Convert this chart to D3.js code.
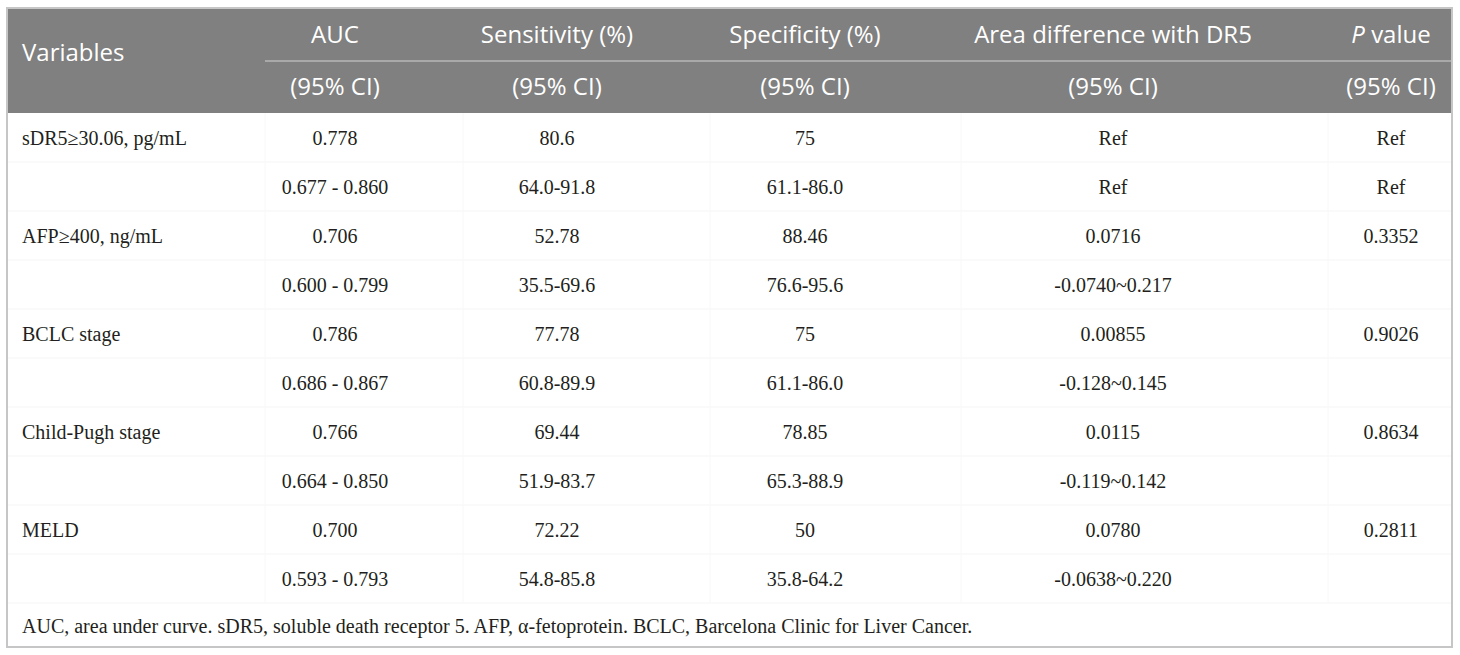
<!DOCTYPE html>
<html>
<head>
<meta charset="utf-8">
<script src="https://cdn.jsdelivr.net/npm/d3@7"></script>
<style>
  html, body { margin: 0; padding: 0; background: #fff; }
  svg { display: block; }
</style>
</head>
<body>
<svg id="chart" width="1460" height="655"></svg>
<script>
// ---- data ----
const headerTop = ["Variables", "AUC", "Sensitivity (%)", "Specificity (%)", "Area difference with DR5", "P value"];
const headerSub = ["", "(95% CI)", "(95% CI)", "(95% CI)", "(95% CI)", "(95% CI)"];
const variables = ["sDR5\u226530.06, pg/mL", "AFP\u2265400, ng/mL", "BCLC stage", "Child-Pugh stage", "MELD"];
const auc      = ["0.778", "0.706", "0.786", "0.766", "0.700"];
const aucCI    = ["0.677 - 0.860", "0.600 - 0.799", "0.686 - 0.867", "0.664 - 0.850", "0.593 - 0.793"];
const sens     = ["80.6", "52.78", "77.78", "69.44", "72.22"];
const sensCI   = ["64.0-91.8", "35.5-69.6", "60.8-89.9", "51.9-83.7", "54.8-85.8"];
const spec     = ["75", "88.46", "75", "78.85", "50"];
const specCI   = ["61.1-86.0", "76.6-95.6", "61.1-86.0", "65.3-88.9", "35.8-64.2"];
const areaDiff = ["Ref", "0.0716", "0.00855", "0.0115", "0.0780"];
const areaCI   = ["Ref", "-0.0740~0.217", "-0.128~0.145", "-0.119~0.142", "-0.0638~0.220"];
const pValue   = ["Ref", "0.3352", "0.9026", "0.8634", "0.2811"];
const pValueCI = ["Ref", "", "", "", ""];
const footnote = "AUC, area under curve. sDR5, soluble death receptor 5. AFP, \u03b1-fetoprotein. BCLC, Barcelona Clinic for Liver Cancer.";

// ---- build rows ----
const rows = [];
variables.forEach((v, i) => {
  rows.push([v, auc[i], sens[i], spec[i], areaDiff[i], pValue[i]]);
  rows.push(["", aucCI[i], sensCI[i], specCI[i], areaCI[i], pValueCI[i]]);
});

const svg = d3.select("#chart");
const L = 7, R = 1452, T = 8, B = 647;
const headBottom = 113, headMid = 61;
const bodyBottom = 603;

const colKeys = d3.range(headerTop.length);
const colCenter = d3.scaleOrdinal().domain(colKeys).range([22, 335, 557, 805, 1113, 1391]);
const colEdges = [265, 463, 710, 961, 1328];

const y = d3.scaleBand().domain(d3.range(rows.length)).range([headBottom, bodyBottom]);

// header background
svg.append("rect").attr("x", L).attr("y", T).attr("width", R - L).attr("height", headBottom - T).attr("fill", "#808080");
svg.append("line").attr("x1", 265).attr("x2", R).attr("y1", headMid).attr("y2", headMid)
  .attr("stroke", "#a9a9a9").attr("stroke-width", 2);

// faint body grid
svg.append("g").selectAll("line").data(d3.range(1, rows.length + 1)).join("line")
  .attr("x1", L).attr("x2", R)
  .attr("y1", d => y(d - 1) + y.bandwidth()).attr("y2", d => y(d - 1) + y.bandwidth())
  .attr("stroke", "#f5f5f5").attr("stroke-width", 1);
svg.append("g").selectAll("line").data(colEdges).join("line")
  .attr("x1", d => d).attr("x2", d => d).attr("y1", headBottom).attr("y2", bodyBottom)
  .attr("stroke", "#f8f8f8").attr("stroke-width", 1);

// header text
const hg = svg.append("g").attr("font-family", "'Open Sans', sans-serif").attr("font-size", 24).attr("fill", "#fff");
hg.selectAll("text.top").data(colKeys).join("text")
  .attr("class", "top")
  .attr("x", d => colCenter(d))
  .attr("y", d => d === 0 ? 61 : 43)
  .attr("text-anchor", d => d === 0 ? "start" : "middle")
  .each(function(d) {
    const t = d3.select(this);
    if (headerTop[d] === "P value") {
      t.append("tspan").attr("font-style", "italic").text("P");
      t.append("tspan").text(" value");
    } else {
      t.text(headerTop[d]);
    }
  });
hg.selectAll("text.sub").data(colKeys.filter(d => headerSub[d])).join("text")
  .attr("class", "sub")
  .attr("x", d => colCenter(d))
  .attr("y", 95)
  .attr("text-anchor", "middle")
  .text(d => headerSub[d]);

// body text
const bg = svg.append("g").attr("font-family", "'Liberation Serif', 'Times New Roman', serif").attr("font-size", 20).attr("fill", "#231f20");
rows.forEach((r, i) => {
  bg.append("g").selectAll("text").data(r.map((v, j) => ({v, j}))).join("text")
    .attr("x", d => colCenter(d.j))
    .attr("y", y(i) + y.bandwidth() / 2 + 7)
    .attr("text-anchor", d => d.j === 0 ? "start" : "middle")
    .text(d => d.v);
});

// footnote
svg.append("text").attr("x", 22).attr("y", 633)
  .attr("font-family", "'Liberation Serif', 'Times New Roman', serif").attr("font-size", 20).attr("fill", "#231f20")
  .text(footnote);

// outer border
svg.append("rect").attr("x", L).attr("y", T).attr("width", R - L).attr("height", B - T)
  .attr("fill", "none").attr("stroke", "#c6c6c6").attr("stroke-width", 2);
</script>
</body>
</html>
